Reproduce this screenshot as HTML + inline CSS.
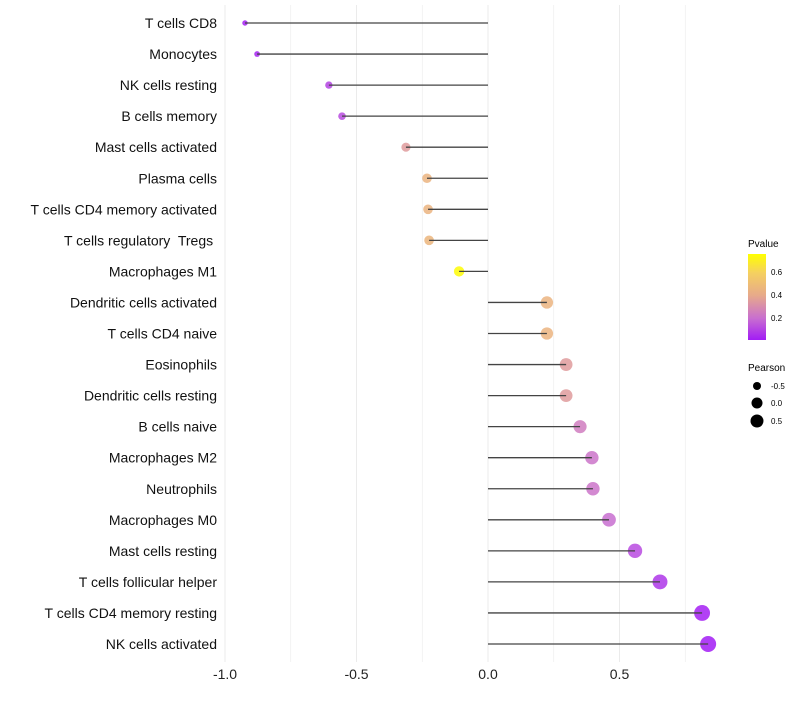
<!DOCTYPE html>
<html><head><meta charset="utf-8"><style>
body{margin:0;background:#fff;font-family:"Liberation Sans",sans-serif;}
svg text{font-family:"Liberation Sans",sans-serif;white-space:pre;}
</style></head><body>
<svg id="c" width="800" height="700">
<defs><linearGradient id="pg" x1="0" y1="1" x2="0" y2="0">
<stop offset="0" stop-color="#A21CF5"/><stop offset="0.25" stop-color="#C86ED0"/><stop offset="0.52" stop-color="#E7AA8A"/><stop offset="0.78" stop-color="#F5D060"/><stop offset="1" stop-color="#FFFF00"/>
</linearGradient></defs>
<g id="grid"></g><g id="marks"></g><g id="labels"></g>
<g>
<text x="748" y="247" font-size="10">Pvalue</text>
<rect x="748" y="254" width="18" height="86" fill="url(#pg)"/>
<text x="771" y="275" font-size="8">0.6</text><text x="771" y="298" font-size="8">0.4</text><text x="771" y="321" font-size="8">0.2</text>
</g>
<g>
<text x="748" y="371" font-size="10">Pearson</text>
<circle cx="757" cy="386" r="4" fill="#000"/><text x="771" y="389" font-size="8">-0.5</text>
<circle cx="757" cy="403" r="5.5" fill="#000"/><text x="771" y="406" font-size="8">0.0</text>
<circle cx="757" cy="421" r="6.5" fill="#000"/><text x="771" y="424" font-size="8">0.5</text>
</g>
</svg>
<script>
const categories=["T cells CD8","Monocytes","NK cells resting","B cells memory","Mast cells activated","Plasma cells","T cells CD4 memory activated","T cells regulatory  Tregs ","Macrophages M1","Dendritic cells activated","T cells CD4 naive","Eosinophils","Dendritic cells resting","B cells naive","Macrophages M2","Neutrophils","Macrophages M0","Mast cells resting","T cells follicular helper","T cells CD4 memory resting","NK cells activated"];
const pearson=[-0.924,-0.878,-0.605,-0.555,-0.312,-0.232,-0.228,-0.224,-0.110,0.224,0.224,0.297,0.297,0.350,0.395,0.399,0.460,0.559,0.654,0.814,0.837];
const pvalue=[0.02,0.03,0.10,0.12,0.35,0.45,0.45,0.46,0.75,0.45,0.45,0.35,0.35,0.25,0.22,0.22,0.20,0.12,0.07,0.02,0.01];
const xTicks=[-1.0,-0.5,0.0,0.5];
const xTickLabels=["-1.0","-0.5","0.0","0.5"];
const NS="http://www.w3.org/2000/svg";
const xs=v=>488+v*263;
const ys=i=>23+i*31.05;
const rs=p=>5.5+3*p;
const stops=[[0.01,[162,28,245]],[0.2,[200,110,208]],[0.4,[231,170,138]],[0.6,[245,208,96]],[0.76,[255,255,0]]];
function col(p){if(p<=stops[0][0])return stops[0][1];for(let k=1;k<stops.length;k++){if(p<=stops[k][0]){const a=stops[k-1],b=stops[k],t=(p-a[0])/(b[0]-a[0]);return a[1].map((c,j)=>Math.round(c+(b[1][j]-c)*t));}}return stops[stops.length-1][1];}
function mk(t,a,par){const e=document.createElementNS(NS,t);for(const k in a)e.setAttribute(k,a[k]);par.appendChild(e);return e;}
const grid=document.getElementById('grid'),marks=document.getElementById('marks'),labels=document.getElementById('labels');
for(let v=-1;v<=0.76;v+=0.25){const l=mk('line',{x1:xs(v),x2:xs(v),y1:5,y2:662,stroke:'#ebebeb','stroke-width':Math.abs(v*2-Math.round(v*2))<0.01?1:0.6},grid);

}
xTicks.forEach((v,i)=>{const t=mk('text',{x:xs(v),y:679,'font-size':14,'text-anchor':'middle',fill:'#222'},labels);t.textContent=xTickLabels[i];

});
categories.forEach((c,i)=>{const y=ys(i);
const t=mk('text',{x:217,y:y+5,'font-size':14,'text-anchor':'end',fill:'#111'},labels);t.textContent=c;


const cc=col(pvalue[i]);
const ci=mk('circle',{cx:xs(pearson[i]),cy:y,r:rs(pearson[i]),fill:`rgb(${cc.join(',')})`,'fill-opacity':0.85},marks);


const ln=mk('line',{x1:xs(0),x2:xs(pearson[i]),y1:y,y2:y,stroke:'#444','stroke-width':1.3},marks);

});
</script>
</body></html>
